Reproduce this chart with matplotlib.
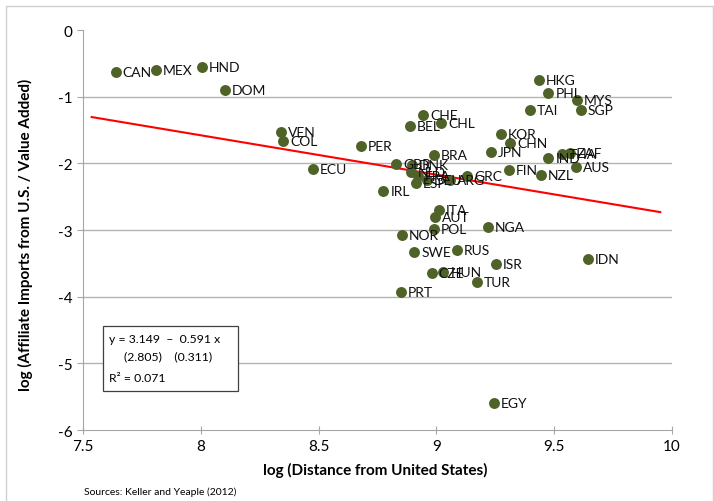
import matplotlib.pyplot as plt
from matplotlib.patches import Rectangle

plt.rcParams['font.family'] = ['Lato', 'DejaVu Sans']

countries = ['CAN', 'MEX', 'HND', 'DOM', 'VEN', 'COL', 'ECU', 'PER', 'IRL', 'GBR',
             'BEL', 'CHE', 'CHL', 'BRA', 'DNK', 'NLD', 'FRA', 'DEU', 'ESP', 'ARG',
             'GRC', 'JPN', 'KOR', 'CHN', 'FIN', 'NZL', 'HKG', 'PHL', 'TAI', 'MYS',
             'SGP', 'IND', 'THA', 'ZAF', 'AUS', 'ITA', 'AUT', 'POL', 'NGA', 'NOR',
             'SWE', 'RUS', 'ISR', 'CZE', 'HUN', 'TUR', 'PRT', 'IDN', 'EGY']
log_dist = [7.639, 7.81, 8.004, 8.103, 8.34, 8.35, 8.477, 8.68, 8.775, 8.829,
            8.888, 8.943, 9.02, 8.99, 8.896, 8.892, 8.92, 8.96, 8.913, 9.058,
            9.131, 9.23, 9.273, 9.314, 9.308, 9.444, 9.435, 9.475, 9.396, 9.597,
            9.612, 9.475, 9.533, 9.567, 9.593, 9.012, 8.994, 8.99, 9.22, 8.853,
            8.906, 9.086, 9.252, 8.98, 9.03, 9.171, 8.849, 9.643, 9.245]
log_share = [-0.63, -0.595, -0.56, -0.895, -1.525, -1.67, -2.085, -1.735, -2.41, -2.01,
             -1.44, -1.275, -1.395, -1.875, -2.025, -2.13, -2.19, -2.25, -2.295, -2.245,
             -2.185, -1.835, -1.56, -1.70, -2.095, -2.175, -0.755, -0.95, -1.20, -1.05,
             -1.195, -1.92, -1.86, -1.85, -2.06, -2.695, -2.81, -2.985, -2.96, -3.075,
             -3.325, -3.295, -3.515, -3.645, -3.625, -3.785, -3.925, -3.435, -5.595]

intercept = 3.149
slope = -0.591
fit_x = [7.537, 9.95]
fit_y = [intercept + slope * v for v in fit_x]

xticks = [7.5, 8, 8.5, 9, 9.5, 10]
xticklabels = ['7.5', '8', '8.5', '9', '9.5', '10']
yticks = [0, -1, -2, -3, -4, -5, -6]

fig = plt.figure(figsize=(7.14, 5.02), dpi=100)
ax = fig.add_axes([0.1162, 0.1414, 0.8250, 0.7968])

for yv in yticks[1:-1]:
    ax.axhline(yv, color='#b3b3b3', lw=1, zorder=0)

ax.plot(fit_x, fit_y, color='#ff0000', lw=1.5, zorder=2)
ax.scatter(log_dist, log_share, s=62, color='#4f6228', zorder=3, linewidths=0)
for name, xv, yv in zip(countries, log_dist, log_share):
    ax.annotate(name, (xv, yv), xytext=(5, 0), textcoords='offset points',
                ha='left', va='center', fontsize=10, color='#111111', zorder=4)

ax.set_xlim(7.5, 10)
ax.set_ylim(-6, 0)
ax.set_xticks(xticks)
ax.set_xticklabels(xticklabels)
ax.set_yticks(yticks)
ax.set_yticklabels([str(v) for v in yticks])
for side in ['top', 'right']:
    ax.spines[side].set_visible(False)
for side in ['left', 'bottom']:
    ax.spines[side].set_color('#a6a6a6')
ax.tick_params(axis='both', labelsize=11, color='#a6a6a6', length=4)
ax.tick_params(axis='x', direction='inout', length=6)
ax.set_xlabel('log (Distance from United States)', fontsize=11, fontweight='bold')
ax.set_ylabel('log (Affiliate Imports from U.S. / Value Added)', fontsize=11,
              fontweight='bold')
ax.xaxis.set_label_coords(0.497, -0.08)
ax.yaxis.set_label_coords(-0.085, 0.49)

# regression results box
box = Rectangle((0.1443, 0.219), 0.189, 0.130, transform=fig.transFigure,
                facecolor='white', edgecolor='#404040', lw=0.9)
fig.patches.append(box)
fig.text(0.153, 0.323, 'y = 3.149  \u2013  0.591 x', fontsize=8.8, va='center')
fig.text(0.174, 0.289, '(2.805)    (0.311)', fontsize=8.8, va='center')
fig.text(0.153, 0.246, 'R\u00b2 = 0.071', fontsize=8.8, va='center')

fig.text(0.118, 0.02, 'Sources: Keller and Yeaple (2012)', fontsize=7.5, va='center')

frame = Rectangle((0.008, -0.01), 0.99, 0.996, transform=fig.transFigure,
                  facecolor='none', edgecolor='#d0d0d0', lw=1)
fig.patches.append(frame)

fig.savefig('out.png', dpi=100)
